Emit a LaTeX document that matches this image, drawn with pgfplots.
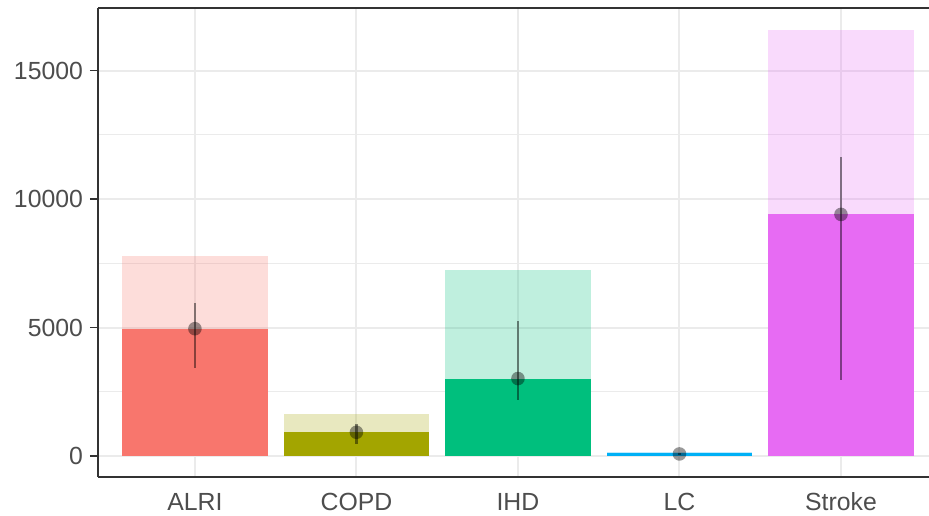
\documentclass[border=0pt]{standalone}
\usepackage{pgfplots}
\pgfplotsset{compat=1.18}
\usepackage{fontspec}
\setmainfont{Liberation Sans}
\definecolor{cA}{HTML}{F8766D}
\definecolor{cB}{HTML}{A3A500}
\definecolor{cC}{HTML}{00BF7D}
\definecolor{cD}{HTML}{00B0F6}
\definecolor{cE}{HTML}{E76BF3}
\definecolor{gridc}{HTML}{EBEBEB}
\definecolor{txt}{HTML}{4D4D4D}
\begin{document}
\begin{tikzpicture}
\begin{axis}[
  name=ax,
  scale only axis,
  width=415.5bp, height=234.5bp,
  xmin=0.4, xmax=5.545,
  ymin=-817, ymax=17432,
  axis x line=box, axis y line=left,
  axis line style={-, line width=0.6bp, black!80},
  xtick={1,2,3,4,5},
  xticklabels={ALRI,COPD,IHD,LC,Stroke},
  ytick={0,5000,10000,15000},
  yticklabels={0,5000,10000,15000},
  minor ytick={2500,7500,12500},
  xmajorgrids, ymajorgrids, yminorgrids,
  major grid style={gridc, line width=1bp},
  minor grid style={gridc, line width=0.5bp},
  tick align=outside,
  major tick length=4bp,
  minor tick length=0pt,
  xtick style={draw=none},
  ytick style={black!80, line width=0.6bp},
  tick label style={font=\fontsize{12.4bp}{14bp}\selectfont, text=txt},
  xticklabel style={text height=9.2bp, text depth=2.6bp},
  clip=false,
]
% light (upper) bars
\addplot[ybar, bar width=0.9, bar shift=0pt, draw=none, fill=cA, fill opacity=0.25] coordinates {(1,7782)};
\addplot[ybar, bar width=0.9, bar shift=0pt, draw=none, fill=cB, fill opacity=0.25] coordinates {(2,1624)};
\addplot[ybar, bar width=0.9, bar shift=0pt, draw=none, fill=cC, fill opacity=0.25] coordinates {(3,7231)};
\addplot[ybar, bar width=0.9, bar shift=0pt, draw=none, fill=cD, fill opacity=0.25] coordinates {(4,160)};
\addplot[ybar, bar width=0.9, bar shift=0pt, draw=none, fill=cE, fill opacity=0.25] coordinates {(5,16575)};
% solid (mean) bars
\addplot[ybar, bar width=0.9, bar shift=0pt, draw=none, fill=cA] coordinates {(1,4953)};
\addplot[ybar, bar width=0.9, bar shift=0pt, draw=none, fill=cB] coordinates {(2,923)};
\addplot[ybar, bar width=0.9, bar shift=0pt, draw=none, fill=cC] coordinates {(3,3014)};
\addplot[ybar, bar width=0.9, bar shift=0pt, draw=none, fill=cD] coordinates {(4,110)};
\addplot[ybar, bar width=0.9, bar shift=0pt, draw=none, fill=cE] coordinates {(5,9400)};
% point ranges
\addplot[black, only marks, mark=*, mark size=3.4bp,
  mark options={black, draw opacity=0, fill opacity=0.4},
  error bars/.cd, y dir=both, y explicit, error mark=none,
  error bar style={line width=1.2bp, black, opacity=0.45}]
  table[x=x, y=y, y error plus=ep, y error minus=em] {
x y ep em
1 4953 989 1517
2 923 339 467
3 3014 2243 818
4 80 40 40
5 9400 2231 6452
};
\end{axis}
\pgfresetboundingbox
\path[use as bounding box] ([xshift=-49bp, yshift=-19.5bp]ax.south west) rectangle ([yshift=4bp]ax.north east);
\end{tikzpicture}
\end{document}
